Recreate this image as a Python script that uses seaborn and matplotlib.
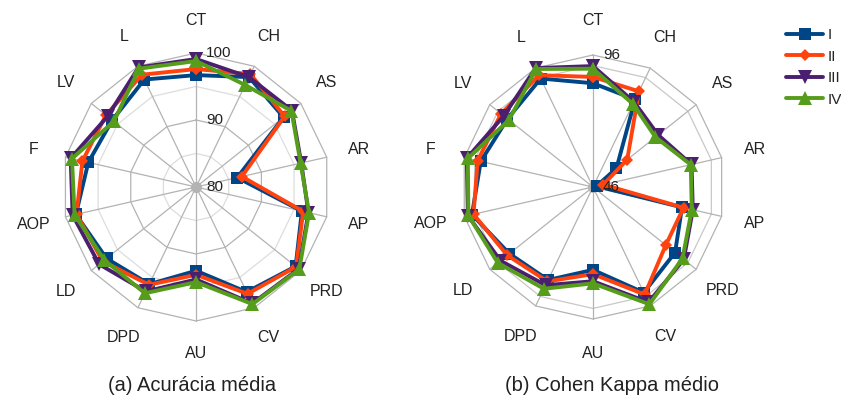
import numpy as np
import pandas as pd
import matplotlib.pyplot as plt
import seaborn as sns
from matplotlib.lines import Line2D
from matplotlib.transforms import offset_copy

categorias = ['CT', 'CH', 'AS', 'AR', 'AP', 'PRD', 'CV', 'AU', 'DPD', 'LD', 'AOP', 'F', 'LV', 'L']
series = ['I', 'II', 'III', 'IV']

# (a) acurácia média
acuracia_I = [96.7, 98.2, 96.7, 86.3, 96.2, 99.0, 97.4, 92.5, 96.1, 97.1, 98.4, 96.5, 96.0, 97.8]
acuracia_II = [97.6, 98.7, 96.9, 87.0, 96.4, 99.1, 97.7, 93.1, 96.2, 97.8, 98.3, 97.4, 97.2, 98.6]
acuracia_III = [99.1, 98.2, 98.3, 96.1, 97.2, 99.6, 99.3, 93.8, 97.3, 98.5, 98.9, 99.2, 96.9, 99.8]
acuracia_IV = [98.8, 96.9, 98.2, 96.0, 97.3, 99.7, 99.4, 94.2, 97.6, 97.5, 98.6, 99.0, 95.7, 99.6]

# (b) cohen kappa médio
kappa_I = [85.3, 82.8, 57.4, 47.4, 80.6, 85.8, 90.4, 77.4, 85.1, 86.5, 93.0, 89.6, 87.4, 91.6]
kappa_II = [87.7, 86.2, 62.6, 50.0, 81.2, 81.3, 91.2, 79.0, 85.7, 87.5, 92.4, 90.8, 90.5, 93.0]
kappa_III = [91.8, 81.8, 77.6, 84.3, 84.8, 90.0, 94.5, 81.7, 87.3, 90.8, 94.6, 95.0, 89.2, 96.0]
kappa_IV = [90.8, 80.9, 76.3, 84.0, 84.4, 89.4, 95.3, 82.5, 88.8, 92.1, 94.4, 94.6, 86.7, 95.6]

cores = {'I': '#004586', 'II': '#ff420e', 'III': '#4b1f6f', 'IV': '#579d1c'}
marcadores = {'I': 's', 'II': 'D', 'III': 'v', 'IV': '^'}
tamanhos = {'s': 8, 'D': 6.5, 'v': 9.5, '^': 9.5}

sns.set_style("white")
plt.rcParams['font.family'] = ['Liberation Sans', 'DejaVu Sans']

angulos = np.linspace(0, 2 * np.pi, len(categorias), endpoint=False)


def montar_df(valores):
    linhas = []
    for s, v in zip(series, valores):
        for a, val in zip(list(angulos) + [2 * np.pi], list(v) + [v[0]]):
            linhas.append({'angulo': a, 'valor': val, 'serie': s})
    return pd.DataFrame(linhas)


def radar(fig, ax, df, rmin, rmax, aneis, rotulos_r, r_rotulo):
    ax.set_theta_offset(np.pi / 2)
    ax.set_theta_direction(-1)
    ax.grid(False)
    ax.spines['polar'].set_visible(False)

    volta = np.linspace(0, 2 * np.pi, len(categorias) + 1)
    for r, cor in aneis:
        ax.plot(volta, [r] * len(volta), color=cor, lw=0.9, zorder=1)
    for a in angulos:
        ax.plot([a, a], [rmin, rmax], color='#b3b3b3', lw=0.9, zorder=1)
    ax.plot([0], [rmin], 'o', color='#b3b3b3', markersize=7, zorder=1)

    sns.lineplot(data=df, x='angulo', y='valor', hue='serie', style='serie',
                 palette=cores, markers=marcadores, dashes=False, sort=False,
                 estimator=None, lw=2.8, markersize=8, markeredgewidth=0,
                 legend=False, ax=ax, zorder=3)
    for linha in ax.lines:
        linha.set_clip_on(False)
        if linha.get_marker() in tamanhos:
            linha.set_markersize(tamanhos[linha.get_marker()])

    ax.set_ylim(rmin, rmax)
    ax.set_xticks([])
    ax.set_yticks([])
    ax.set_xlabel('')
    ax.set_ylabel('')

    for a, c in zip(angulos, categorias):
        ax.text(a, r_rotulo, c, ha='center', va='center', fontsize=11.5, color='#222222')
    desloc = offset_copy(ax.transData, fig=fig, x=10, y=0, units='dots')
    for r in rotulos_r:
        ax.text(0, r, str(r), transform=desloc, ha='left', va='center',
                fontsize=11, color='#222222', zorder=5)


fig = plt.figure(figsize=(8.41, 3.99), dpi=100)
ax1 = fig.add_axes([0.0738, 0.1955, 0.3187, 0.6717], projection='polar')
ax2 = fig.add_axes([0.5481, 0.2005, 0.3139, 0.6617], projection='polar')

df_acc = montar_df([acuracia_I, acuracia_II, acuracia_III, acuracia_IV])
df_kappa = montar_df([kappa_I, kappa_II, kappa_III, kappa_IV])

radar(fig, ax1, df_acc, 80, 100,
      [(85, '#dddddd'), (90, '#b3b3b3'), (95, '#dddddd'), (100, '#b3b3b3')],
      [80, 90, 100], 104.9)
radar(fig, ax2, df_kappa, 46, 96,
      [(92, '#c8c8c8'), (96, '#b3b3b3')],
      [46, 96], 109.0)

fig.text(0.228, 0.035, '(a) Acurácia média', ha='center', va='center', fontsize=14.5, color='#222222')
fig.text(0.728, 0.035, '(b) Cohen Kappa médio', ha='center', va='center', fontsize=14.5, color='#222222')

handles = [Line2D([], [], color=cores[s], marker=marcadores[s], lw=2.8,
                  markersize=tamanhos[marcadores[s]], markeredgewidth=0) for s in series]
fig.legend(handles, series, loc='upper left', bbox_to_anchor=(0.935, 0.93),
           frameon=False, fontsize=11, handlelength=2.4, handletextpad=0.3,
           labelspacing=0.5, borderpad=0, borderaxespad=0)

fig.savefig('out.png', dpi=100)
